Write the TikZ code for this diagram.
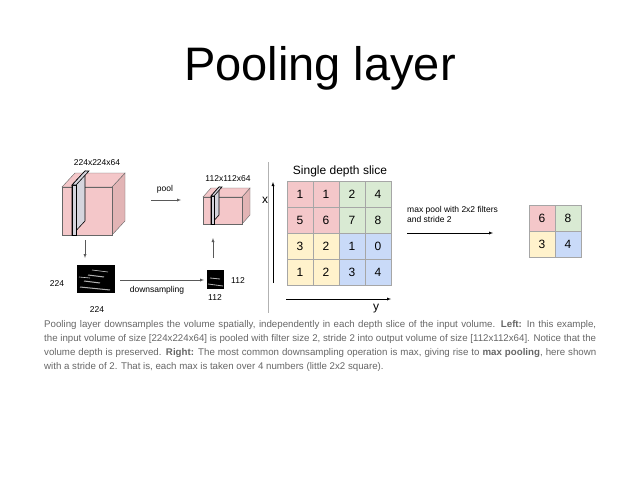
\documentclass[tikz,border=0pt]{standalone}
\usepackage{fontspec}
\setmainfont{Liberation Sans}
\begin{document}
\begin{tikzpicture}[x=1pt,y=-1pt,
  lab/.style={inner sep=0pt,font=\fontsize{8.5}{10}\selectfont},
  arr/.style={->,>=latex,gray!70!black,thin},
  cell/.style={draw=gray!70,minimum size=26pt,inner sep=0pt,font=\fontsize{12}{13}\selectfont},
  front/.style={draw=gray!80!black,line width=0.4pt},
  side/.style={draw=gray!80!black,line width=0.4pt},
  slab/.style={fill=blue!10!gray!30,draw=black,line width=0.6pt}]
\definecolor{cr}{HTML}{F4C7C9}\definecolor{cg}{HTML}{D9EAD3}
\definecolor{cy}{HTML}{FFF2CC}\definecolor{cb}{HTML}{C9DAF8}
\definecolor{cs}{HTML}{E2B4B5}
\useasboundingbox (0,0) rectangle (638,479);
\node[font=\fontsize{47}{50}\selectfont] (title) at (320,68) {Pooling layer};
% big cube
\draw[side,fill=cs] (112,187)--(125,173)--(125,221)--(112,235)--cycle;
\draw[front,fill=cr] (62,187)--(75,173)--(125,173)--(112,187)--cycle;
\draw[front,fill=cr] (62,187) rectangle (112,235);
\draw[slab] (72,185)--(85,171)--(85,221)--(72,235)--cycle;
\draw[slab] (72,185) rectangle (76,235);
\draw[slab] (72,185)--(85,171)--(89,171)--(76,185)--cycle;
\node[lab] (l1) at (97,163) {224x224x64};
% small cube
\draw[side,fill=cs] (242,197)--(250,188)--(250,215)--(242,224)--cycle;
\draw[front,fill=cr] (203,197)--(211,188)--(250,188)--(242,197)--cycle;
\draw[front,fill=cr] (203,197) rectangle (242,224);
\draw[slab] (211,196)--(219,187)--(219,215)--(211,224)--cycle;
\draw[slab] (211,196) rectangle (214,224);
\draw[slab] (211,196)--(219,187)--(222,187)--(214,196)--cycle;
\node[lab] (l2) at (228,179) {112x112x64};
% pool arrow
\coordinate (p1) at (151,200); \coordinate (p2) at (181,200);
\draw[arr] (p1)--(p2);
\node[lab] (pool) at (165,189) {pool};
% images
\node[fill=black,minimum width=38pt,minimum height=28pt,inner sep=0pt] (img1) at (96,279) {};
\draw[gray!60,line width=1pt] (80,287) -- (110,290) (84,281)--(100,283) (88,275)--(104,277);
\draw[gray!40,line width=0.6pt] (92,270)--(108,272) (79,277)--(90,278);
\node[fill=black,minimum width=17pt,minimum height=19pt,inner sep=0pt] (img2) at (215.5,279.5) {};
\draw[gray!60,line width=0.8pt] (208,284)--(223,286) (210,278)--(220,279);
\node[lab] at (57,284) {224};
\node[lab] at (97,310) {224};
\node[lab] at (238,281) {112};
\node[lab] at (215,298) {112};
\coordinate (d1) at (85,240); \coordinate (d2) at (85,258);
\draw[arr] (d1)--(d2);
\coordinate (u1) at (213,258); \coordinate (u2) at (213,238);
\draw[arr] (u1)--(u2);
\coordinate (s1) at (120,280); \coordinate (s2) at (204,280);
\draw[arr] (s1)--(s2);
\node[lab] (ds) at (157,290) {downsampling};
% divider
\coordinate (v1) at (268,162); \coordinate (v2) at (268,313);
\draw[gray!60,thin] (v1)--(v2);
\coordinate (x1) at (273,283); \coordinate (x2) at (273,182);
\draw[arr,black] (x1)--(x2);
\node[font=\fontsize{12}{13}\selectfont,inner sep=0pt] (xl) at (265,200) {x};
\coordinate (y1) at (286,299); \coordinate (y2) at (391,299);
\draw[arr,black] (y1)--(y2);
\node[font=\fontsize{12}{13}\selectfont,inner sep=0pt] (yl) at (376,309) {y};
\node[font=\fontsize{12}{13}\selectfont,inner sep=0pt] (sds) at (340,171) {Single depth slice};
% grid
\foreach \r/\row in {0/{1,1,2,4},1/{5,6,7,8},2/{3,2,1,0},3/{1,2,3,4}}{
  \foreach \v [count=\c from 0] in \row {
    \pgfmathtruncatemacro{\q}{(\r>1)*2+(\c>1)}
    \ifcase\q \def\cc{cr}\or\def\cc{cg}\or\def\cc{cy}\else\def\cc{cb}\fi
    \node[cell,fill=\cc] (g\r\c) at (300+26*\c,194+26*\r) {\v};
  }}
\node[lab,align=left,anchor=west] (mp) at (407,214) {max pool with 2x2 filters\\and stride 2};
\coordinate (m1) at (407,233); \coordinate (m2) at (493,233);
\draw[arr,black] (m1)--(m2);
\node[cell,fill=cr] (o00) at (542,218) {6};
\node[cell,fill=cg] (o01) at (568,218) {8};
\node[cell,fill=cy] (o10) at (542,244) {3};
\node[cell,fill=cb] (o11) at (568,244) {4};
% caption
\node[anchor=north west,inner sep=0pt,text width=552pt,align=justify,text=gray!80!black,
  font=\fontsize{9.7}{14}\selectfont] (cap) at (44,320) {Pooling layer downsamples the volume spatially, independently in each depth slice of the input volume. \textbf{Left:} In this example, the input volume of size [224x224x64] is pooled with filter size 2, stride 2 into output volume of size [112x112x64]. Notice that the volume depth is preserved. \textbf{Right:} The most common downsampling operation is max, giving rise to \textbf{max pooling}, here shown with a stride of 2. That is, each max is taken over 4 numbers (little 2x2 square).};
\end{tikzpicture}
\end{document}
